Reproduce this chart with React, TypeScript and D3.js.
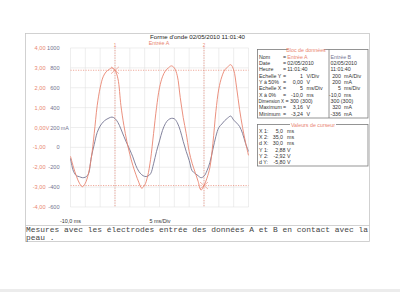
import React from 'react';
import * as d3 from 'd3';

// ---- data ----
const timeMs = d3.range(-10, 51, 1);
const entreeA_V = [
  -1.45, -2.0, -2.45, -2.8, -2.98, -2.8, -2.35, -1.55, -0.3, 1.1,
  2.0, 2.55, 2.8, 2.92, 3.0, 2.88, 2.45, 1.1, 0.1, -0.7,
  -1.35, -1.9, -2.35, -2.75, -3.05, -2.9, -2.45, -1.6, -0.3, 1.0,
  2.0, 2.55, 2.85, 3.0, 3.1, 3.0, 2.6, 1.5, 0.5, -0.3,
  -1.2, -1.8, -2.25, -2.7, -3.15, -2.92, -2.55, -2.0, -0.8, 0.8,
  1.95, 2.55, 2.9, 3.05, 3.16, 2.9, 2.0, 0.9, 0.0, -0.75,
  -1.4,
];
const entreeB_mA = [
  -110, -240, -285, -295, -305, -300, -270, -100, 30, 150,
  215, 255, 280, 296, 305, 290, 250, 185, 110, 40,
  -25, -95, -180, -240, -275, -292, -290, -265, -165, -40,
  65, 170, 240, 278, 292, 288, 248, 170, 60, -40,
  -130, -235, -262, -285, -305, -290, -235, -150, -20, 110,
  200, 235, 270, 296, 315, 275, 245, 210, 140, 40,
  -40,
];
const voltTicks = [4, 3, 2, 1, 0, -1, -2, -3, -4];
const voltLabels = ['4,00', '3,00', '2,00', '1,00', '0,00', '-1,00', '-2,00', '-3,00', '-4,00'];
const mATicks = [1000, 800, 600, 400, 200, 0, -200, -400, -600];
const mALabels = ['1000', '800', '600', '400', '200', '0', '-200', '-400', '-600'];
const xGridTicks = [-10, -5, 0, 5, 10, 15, 20, 25, 30, 35, 40, 45, 50];
const cursorX = [5, 35];
const cursorY = [2.88, -2.92];
const cursorNames = ['1', '2'];

const titleText = "Forme d'onde  02/05/2010  11:01:40";
const blocLabels = ['Nom', 'Date', 'Heure', 'Echelle Y', 'Y à 50%', 'Echelle X', 'X à 0%', 'Dimension X', 'Maximum', 'Minimum'];
const blocA_num = ['Entrée A', '02/05/2010', '11:01:40', '1', '0,00', '5', '-10,0', '300 (300)', '3,16', '-3,24'];
const blocA_unit = ['', '', '', 'V/Div', 'V', 'ms/Div', 'ms', '', 'V', 'V'];
const blocB_num = ['Entrée B', '02/05/2010', '11:01:40', '200', '200', '5', '-10,0', '300 (300)', '320', '-336'];
const blocB_unit = ['', '', '', 'mA/Div', 'mA', 'ms/Div', 'ms', '', 'mA', 'mA'];
const cursorLabels = ['X 1:', 'X 2:', 'd X:', 'Y 1:', 'Y 2:', 'd Y:'];
const cursorNums = ['5,0', '35,0', '30,0', '2,88', '-2,92', '-5,80'];
const cursorUnits = ['ms', 'ms', 'ms', 'V', 'V', 'V'];
const noteLine1 = 'Mesures avec les électrodes entrée des données A et B en contact avec la';
const noteLine2 = 'peau .';

// ---- styles ----
const RED = '#e98571';
const BLUE = '#757592';
const TXT = '#333';
const FONT = '"Liberation Sans", Arial, sans-serif';

export default function App() {
  const x = d3.scaleLinear().domain([-10, 50]).range([70.5, 248.5]);
  const yV = d3.scaleLinear().domain([-4, 4]).range([207, 48]);
  const yMA = d3.scaleLinear().domain([-600, 1000]).range([207, 48]);

  const lineA = d3.line<number>()
    .x((_, i) => x(timeMs[i]))
    .y((d) => yV(d))
    .curve(d3.curveCatmullRom.alpha(0.5));
  const lineB = d3.line<number>()
    .x((_, i) => x(timeMs[i]))
    .y((d) => yMA(d))
    .curve(d3.curveCatmullRom.alpha(0.5));

  const [x0, x1] = x.range();
  const [yb, yt] = yV.range();
  const fs = 5.3;
  const rowY = (i: number) => 56.5 + i * 6.35;
  const curRowY = (i: number) => 131 + i * 6.2;
  const simpleRows = [0, 1, 2];

  return (
    <svg width={400} height={292} style={{ position: 'fixed', left: 0, top: 0, background: '#fff' }}
      fontFamily={FONT}>
      <rect x={0} y={0} width={400} height={292} fill="#fff" />
      <rect x={0} y={289} width={400} height={3} fill="#ececec" />
      {/* outer frame */}
      <rect x={25.5} y={33.5} width={344} height={208} fill="none" stroke="#c6c6c6" strokeWidth={0.8} />
      <line x1={25.5} x2={369.5} y1={225.5} y2={225.5} stroke="#c6c6c6" strokeWidth={0.8} />
      <text x={150} y={38.6} fontSize={5.9} fill="#222" textLength={95} lengthAdjust="spacingAndGlyphs">{titleText}</text>
      <text x={159} y={45} fontSize={5.4} fill={RED} textAnchor="middle">Entrée A</text>

      {/* grid */}
      {xGridTicks.map((t) => (
        <line key={'gx' + t} x1={x(t)} x2={x(t)} y1={yt} y2={yb} stroke="#e2e2e2" strokeWidth={0.6} />
      ))}
      {voltTicks.map((v) => (
        <line key={'gy' + v} x1={x0} x2={x1} y1={yV(v)} y2={yV(v)} stroke="#e2e2e2" strokeWidth={0.6} />
      ))}

      {/* axis labels */}
      {voltTicks.map((v, i) => (
        <g key={'vl' + v}>
          <text x={45.5} y={yV(v) + 2} fontSize={5.6} fill={RED} textAnchor="end">{voltLabels[i]}</text>
          {v === 0 && <text x={45.7} y={yV(v) + 2} fontSize={5.4} fill={RED}>V</text>}
        </g>
      ))}
      {mATicks.map((m, i) => (
        <g key={'ml' + m}>
          <text x={59.5} y={yMA(m) + 2} fontSize={5.6} fill={BLUE} textAnchor="end">{mALabels[i]}</text>
          {m === 200 && <text x={60.8} y={yMA(m) + 2} fontSize={5.4} fill={BLUE}>mA</text>}
        </g>
      ))}
      <text x={x(-10)} y={223} fontSize={5.4} fill={TXT} textAnchor="middle">-10,0 ms</text>
      <text x={160} y={223} fontSize={5.4} fill={TXT} textAnchor="middle">5 ms/Div</text>

      {/* curves */}
      <path d={lineB(entreeB_mA) || ''} fill="none" stroke={BLUE} strokeWidth={0.9} />
      <path d={lineA(entreeA_V) || ''} fill="none" stroke={RED} strokeWidth={0.9} />

      {/* cursors */}
      {cursorX.map((t, i) => (
        <g key={'cx' + i}>
          <line x1={x(t)} x2={x(t)} y1={47.5} y2={yb} stroke={RED} strokeWidth={0.7} strokeDasharray="1.2,1.3" />
          <text x={x(t)} y={46.5} fontSize={4.5} fill={RED} textAnchor="middle">{cursorNames[i]}</text>
        </g>
      ))}
      {cursorY.map((v, i) => (
        <line key={'cy' + i} x1={x0} x2={x1} y1={yV(v)} y2={yV(v)} stroke={RED} strokeWidth={0.7} strokeDasharray="1.2,1.3" />
      ))}
      {cursorX.map((t, i) => {
        const cx = x(t), cy = yV(cursorY[i]);
        return (
          <g key={'mk' + i} stroke={RED} strokeWidth={0.6}>
            <line x1={cx - 4} x2={cx + 4} y1={cy - 3.5} y2={cy + 3.5} />
            <line x1={cx - 4} x2={cx + 4} y1={cy + 3.5} y2={cy - 3.5} />
          </g>
        );
      })}

      {/* data block */}
      <rect x={257.5} y={49.5} width={110.5} height={68.5} fill="#fff" stroke="#7a7a7a" strokeWidth={0.8} />
      <line x1={329} x2={329} y1={49.5} y2={118} stroke="#7a7a7a" strokeWidth={0.8} />
      <rect x={288} y={47} width={36} height={5} fill="#fff" />
      <text x={306} y={51.5} fontSize={fs} fill={RED} textAnchor="middle">Bloc de données</text>
      {blocLabels.map((l, i) => (
        <g key={'bl' + i} fontSize={fs} fill={TXT}>
          {i === 7 ? (
            <text x={258.6} y={rowY(i) + 2} fontSize={4.5}>{l}</text>
          ) : (
            <text x={259} y={rowY(i) + 2}>{l}</text>
          )}
          {i === 7 ? (
            <text x={285.4} y={rowY(i) + 2}>{'= ' + blocA_num[i]}</text>
          ) : (
            <text x={283} y={rowY(i) + 2}>=</text>
          )}
          {i === 7 ? null : simpleRows.includes(i) ? (
            <text x={287.3} y={rowY(i) + 2} fill={i === 0 ? RED : TXT}>{blocA_num[i]}</text>
          ) : (
            <>
              <text x={303} y={rowY(i) + 2} textAnchor="end">{blocA_num[i]}</text>
              <text x={306.5} y={rowY(i) + 2}>{blocA_unit[i]}</text>
            </>
          )}
          {simpleRows.includes(i) || i === 7 ? (
            <text x={330.5} y={rowY(i) + 2} fill={i === 0 ? BLUE : TXT}>{blocB_num[i]}</text>
          ) : (
            <>
              <text x={341} y={rowY(i) + 2} textAnchor="end">{blocB_num[i]}</text>
              <text x={344} y={rowY(i) + 2}>{blocB_unit[i]}</text>
            </>
          )}
        </g>
      ))}

      {/* cursor block */}
      <rect x={257.5} y={124.5} width={110.5} height={41.5} fill="#fff" stroke="#7a7a7a" strokeWidth={0.8} />
      <rect x={290} y={122} width={46} height={5} fill="#fff" />
      <text x={313} y={126.5} fontSize={fs} fill={RED} textAnchor="middle">Valeurs de curseur</text>
      {cursorLabels.map((l, i) => (
        <g key={'cl' + i} fontSize={fs} fill={TXT}>
          <text x={259} y={curRowY(i) + 2}>{l}</text>
          <text x={i < 3 ? 283 : 285.5} y={curRowY(i) + 2} textAnchor="end">{cursorNums[i]}</text>
          <text x={287} y={curRowY(i) + 2}>{cursorUnits[i]}</text>
        </g>
      ))}

      {/* note */}
      <text x={26} y={231.6} fontSize={7.9} fontFamily='"Liberation Mono", "DejaVu Sans Mono", monospace' fill="#444"
        textLength={342} lengthAdjust="spacing">{noteLine1}</text>
      <text x={26} y={239.8} fontSize={7.9} fontFamily='"Liberation Mono", "DejaVu Sans Mono", monospace' fill="#444">{noteLine2}</text>
    </svg>
  );
}
